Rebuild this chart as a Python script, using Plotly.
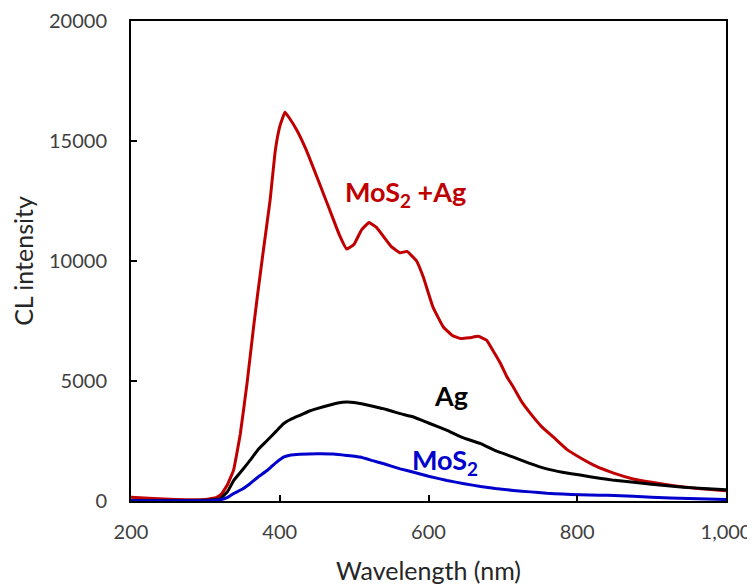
import plotly.graph_objects as go

# wavelength (nm) and CL intensity
wl_mos2_ag = [200, 230, 260, 300, 315, 322, 330, 338, 347, 356, 365, 370, 378, 387, 394, 400, 407, 412,
              423, 436, 450, 460, 470, 480, 490, 500, 510, 520, 530, 540, 550, 562, 571, 584, 593, 606,
              620, 632, 643, 655, 667, 678, 688, 697, 705, 714, 725, 737, 752, 768, 786, 804, 825, 850,
              875, 900, 925, 950, 975, 1000]
cl_mos2_ag = [160, 100, 60, 60, 150, 300, 700, 1300, 2800, 4900, 7300, 8550, 10450, 12530, 14600, 15600,
              16200, 16000, 15450, 14600, 13500, 12700, 11900, 11100, 10500, 10700, 11300, 11600, 11400,
              11000, 10600, 10340, 10400, 10000, 9330, 8080, 7250, 6900, 6770, 6800, 6860, 6700, 6200,
              5720, 5200, 4750, 4150, 3650, 3100, 2660, 2150, 1800, 1450, 1150, 920, 780, 660, 560, 490, 430]

wl_ag = [200, 250, 300, 320, 330, 338, 350, 360, 371, 383, 395, 405, 416, 427, 440, 450, 465, 478, 490,
         500, 510, 525, 539, 550, 562, 580, 600, 625, 645, 670, 690, 714, 735, 759, 780, 804, 830, 850,
         876, 900, 943, 970, 1000]
cl_ag = [20, 20, 30, 100, 400, 850, 1300, 1690, 2150, 2520, 2900, 3220, 3420, 3570, 3750, 3850, 3980,
         4080, 4120, 4100, 4050, 3950, 3850, 3750, 3640, 3500, 3250, 2940, 2650, 2390, 2100, 1830, 1580,
         1340, 1200, 1080, 950, 860, 780, 700, 575, 520, 470]

wl_mos2 = [200, 300, 320, 330, 338, 350, 360, 371, 383, 395, 405, 415, 427, 450, 472, 490, 508, 525, 540,
           562, 580, 600, 625, 648, 670, 690, 714, 737, 759, 780, 804, 830, 850, 900, 950, 1000]
cl_mos2 = [10, 10, 50, 150, 310, 500, 720, 1000, 1270, 1600, 1830, 1920, 1950, 1970, 1960, 1900, 1830,
           1680, 1550, 1340, 1200, 1030, 855, 720, 605, 520, 440, 380, 325, 290, 260, 240, 230, 160, 100, 60]

RED = '#C00000'
BLUE = '#0000CC'
FONT = 'Lato, Open Sans, sans-serif'

fig = go.Figure()
fig.add_trace(go.Scatter(x=wl_mos2_ag, y=cl_mos2_ag, mode='lines',
                         line=dict(color=RED, width=3, shape='spline', smoothing=0.3)))
fig.add_trace(go.Scatter(x=wl_ag, y=cl_ag, mode='lines',
                         line=dict(color='black', width=3, shape='spline', smoothing=0.3)))
fig.add_trace(go.Scatter(x=wl_mos2, y=cl_mos2, mode='lines',
                         line=dict(color=BLUE, width=3, shape='spline', smoothing=0.3)))

# series labels
fig.add_annotation(x=569, y=12830, text='<b>MoS<sub>2</sub> +Ag</b>', showarrow=False,
                   font=dict(size=27, color=RED, family=FONT))
fig.add_annotation(x=630, y=4400, text='<b>Ag</b>', showarrow=False,
                   font=dict(size=27, color='black', family=FONT))
fig.add_annotation(x=622, y=1650, text='<b>MoS<sub>2</sub></b>', showarrow=False,
                   font=dict(size=27, color=BLUE, family=FONT))

fig.update_xaxes(range=[200, 1000], tickvals=[200, 400, 600, 800, 1000], tickformat=',',
                 ticks='inside', ticklen=6, tickwidth=2, tickcolor='black',
                 showline=True, linecolor='black', linewidth=2, mirror=True,
                 showgrid=False, zeroline=False, ticklabelstandoff=12, automargin=False,
                 tickfont=dict(size=20, color='#404040', family=FONT),
                 title=dict(text='Wavelength (nm)', standoff=20,
                            font=dict(size=25, color='#262626', family=FONT)))
fig.update_yaxes(range=[0, 20000], tickvals=[0, 5000, 10000, 15000, 20000], tickformat='d',
                 ticks='inside', ticklen=6, tickwidth=2, tickcolor='black',
                 showline=True, linecolor='black', linewidth=2, mirror=True,
                 showgrid=False, zeroline=False, ticklabelstandoff=18, automargin=False,
                 tickfont=dict(size=20, color='#404040', family=FONT),
                 title=dict(text='CL intensity', standoff=12,
                            font=dict(size=25, color='#262626', family=FONT)))

# page body has an 8px margin, so the figure is a bit smaller than the window
fig.update_layout(width=747, height=578, showlegend=False,
                  plot_bgcolor='white', paper_bgcolor='white',
                  margin=dict(l=123, r=29, t=13, b=85, autoexpand=False))
fig.write_html("out.html")
